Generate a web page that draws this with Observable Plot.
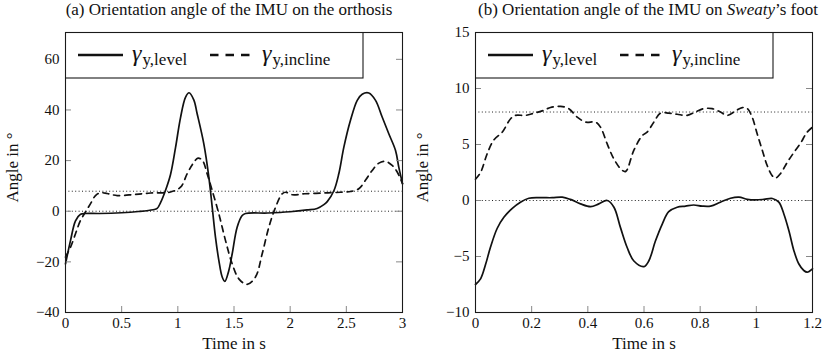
<!DOCTYPE html>
<html><head><meta charset="utf-8">
<script src="https://cdn.jsdelivr.net/npm/d3@7"></script>
<script src="https://cdn.jsdelivr.net/npm/@observablehq/plot@0.6"></script>
<style>
body{margin:0;background:#fff;font-family:"Liberation Serif",serif;color:#111;}
#fig{position:relative;width:823px;height:356px;overflow:hidden;background:#fff;}
.panel{position:absolute;top:0;width:412px;height:356px;}
.panel svg text{font-family:"Liberation Serif",serif;}
.title{position:absolute;top:1px;width:400px;white-space:nowrap;font-size:17px;line-height:17px;text-align:center;color:#111;}
.legend{position:absolute;top:32px;}
</style></head><body><div id="fig"></div>
<script>
// ---------- data: panel (a) orthosis ----------
const tA_level = [0, 0.045, 0.089, 0.134, 0.178, 0.3, 0.5, 0.65, 0.78, 0.816, 0.846, 0.89, 0.935, 0.979, 1.024, 1.068, 1.1, 1.142, 1.172, 1.231, 1.276, 1.306, 1.335, 1.365, 1.395, 1.418, 1.454, 1.484, 1.528, 1.573, 1.602, 1.8, 2.0, 2.15, 2.24, 2.3, 2.33, 2.39, 2.433, 2.478, 2.537, 2.597, 2.641, 2.7, 2.76, 2.819, 2.878, 2.938, 2.967, 3.0];
const vA_level = [-20.8, -11.5, -3.8, -1.2, -0.9, -0.9, -0.6, -0.1, 0.6, 1.1, 3.4, 8.2, 14.5, 25, 37, 45, 46.8, 44, 38.5, 26.7, 13.5, 1.6, -10.2, -19.4, -26, -27.7, -23.4, -16.8, -6.3, -1.7, -0.9, -0.7, -0.2, 0.5, 1.1, 2.6, 3.8, 8.2, 14.8, 25.3, 35.9, 43.8, 46.2, 46.7, 43.8, 37.2, 30.6, 24, 17.4, 10.9];
const tA_incline = [0, 0.045, 0.089, 0.134, 0.178, 0.223, 0.267, 0.312, 0.371, 0.46, 0.608, 0.757, 0.935, 1.024, 1.083, 1.13, 1.18, 1.22, 1.261, 1.306, 1.365, 1.424, 1.484, 1.543, 1.617, 1.691, 1.751, 1.81, 1.87, 1.929, 1.96, 2.02, 2.13, 2.3, 2.45, 2.537, 2.611, 2.67, 2.73, 2.79, 2.85, 2.908, 2.953, 3.0];
const vA_incline = [-18.1, -14.2, -8.9, -3.6, -0.3, 3, 6.2, 7.3, 7.0, 6.2, 6.6, 7.2, 7.6, 9.5, 14.8, 18.5, 21, 20, 14.8, 8.2, -1.0, -11.5, -20.8, -26.7, -28.9, -26, -16.8, -6.3, 1.6, 6.9, 7.5, 6.5, 6.9, 7.2, 7.5, 7.8, 8.9, 12.2, 16.1, 19, 19.7, 18.1, 15.5, 10.9];
const refA = [0, 7.9];
const xTicksA = [0, 0.5, 1, 1.5, 2, 2.5, 3];
const yTicksA = [-40, -20, 0, 20, 40, 60];

// ---------- data: panel (b) Sweaty's foot ----------
const tB_level = [0, 0.018, 0.036, 0.053, 0.077, 0.101, 0.131, 0.16, 0.19, 0.232, 0.273, 0.309, 0.338, 0.374, 0.41, 0.439, 0.469, 0.493, 0.516, 0.54, 0.564, 0.6, 0.617, 0.641, 0.665, 0.688, 0.718, 0.748, 0.777, 0.807, 0.837, 0.872, 0.908, 0.938, 0.968, 0.997, 1.027, 1.057, 1.08, 1.098, 1.116, 1.134, 1.151, 1.169, 1.181, 1.2];
const vB_level = [-7.5, -7.0, -5.7, -4.2, -2.5, -1.5, -0.7, -0.15, 0.2, 0.25, 0.25, 0.3, 0.1, -0.3, -0.55, -0.3, 0, -0.6, -2.4, -4.2, -5.4, -5.9, -5.4, -3.6, -2.1, -1.0, -0.6, -0.5, -0.4, -0.5, -0.5, -0.15, 0.2, 0.3, 0.1, 0.05, 0.1, 0.18, -0.15, -1.2, -2.7, -4.5, -5.65, -6.25, -6.4, -6.1];
const tB_incline = [0, 0.018, 0.042, 0.065, 0.095, 0.125, 0.142, 0.178, 0.208, 0.237, 0.267, 0.303, 0.332, 0.362, 0.392, 0.427, 0.445, 0.469, 0.493, 0.522, 0.535, 0.564, 0.594, 0.611, 0.635, 0.659, 0.688, 0.718, 0.754, 0.783, 0.813, 0.843, 0.872, 0.896, 0.926, 0.95, 0.968, 0.985, 1.003, 1.021, 1.039, 1.057, 1.068, 1.086, 1.11, 1.134, 1.157, 1.181, 1.2];
const vB_incline = [1.9, 2.5, 4.2, 5.4, 6.1, 7.3, 7.6, 7.6, 7.8, 8.0, 8.3, 8.4, 8.2, 7.45, 7.0, 7.0, 6.55, 5.05, 3.7, 2.7, 2.6, 4.5, 5.8, 6.1, 7.0, 7.8, 7.8, 7.7, 7.6, 7.9, 8.2, 8.2, 7.9, 7.6, 8.0, 8.3, 8.2, 7.45, 5.95, 4.5, 3.1, 2.2, 2.0, 2.4, 3.4, 4.3, 5.1, 6.1, 6.55];
const refB = [0, 7.9];
const xTicksB = [0, 0.2, 0.4, 0.6, 0.8, 1, 1.2];
const yTicksB = [-10, -5, 0, 5, 10, 15];

const titleA = "(a) Orientation angle of the IMU on the orthosis";
const titleB = ["(b) Orientation angle of the IMU on ", "Sweaty", "’s foot"];
const xLabel = "Time in s";
const yLabel = "Angle in °";
const seriesNames = ["level", "incline"];

const FONT = "Liberation Serif";
const fmt = d => (d < 0 ? "\u2212" : "") + Math.abs(d);

function makePanel(o) {
  const W = 412, H = 356, mt = 32, mb = 44;
  const iw = W - o.ml - o.mr, ih = H - mt - mb;
  const level = o.tl.map((t, i) => ({t, v: o.vl[i]}));
  const incline = o.ti.map((t, i) => ({t, v: o.vi[i]}));
  return Plot.plot({
    width: W, height: H, marginLeft: o.ml, marginRight: o.mr, marginTop: mt, marginBottom: mb,
    style: {fontFamily: FONT, fontSize: "15px", background: "white", color: "#111"},
    x: {domain: o.xd}, y: {domain: o.yd},
    marks: [
      Plot.ruleY(o.ref, {stroke: "#222", strokeWidth: 1, strokeDasharray: "1,2.4"}),
      Plot.line(level, {x: "t", y: "v", curve: "catmull-rom", stroke: "#111", strokeWidth: 1.7}),
      Plot.line(incline, {x: "t", y: "v", curve: "catmull-rom", stroke: "#111", strokeWidth: 1.7, strokeDasharray: "6,5"}),
      Plot.tickY(o.yt, {y: d => d, insetRight: iw - 6, stroke: "#888", strokeWidth: 1}),
      Plot.tickY(o.yt, {y: d => d, insetLeft: iw - 6, stroke: "#888", strokeWidth: 1}),
      Plot.tickX(o.xt, {x: d => d, insetTop: ih - 6, stroke: "#888", strokeWidth: 1}),
      Plot.axisX({ticks: o.xt, tickSize: 0, tickPadding: 5, tickFormat: fmt, label: null, fontSize: 15, fontFamily: FONT, fill: "#111"}),
      Plot.axisY({ticks: o.yt, tickSize: 0, tickPadding: 6, tickFormat: fmt, label: null, fontSize: 15, fontFamily: FONT, fill: "#111"}),
      Plot.frame({stroke: "#1a1a1a", strokeWidth: 1.1}),
      Plot.text([xLabel], {frameAnchor: "bottom", lineAnchor: "middle", textAnchor: "middle", dy: 31, fontSize: 17, fontFamily: FONT, fill: "#111"}),
      Plot.text([yLabel], {frameAnchor: "left", lineAnchor: "middle", textAnchor: "middle", dx: -53, dy: -5, rotate: -90, fontSize: 17, fontFamily: FONT, fill: "#111"})
    ]
  });
}

function makeLegend() {
  const ns = "http://www.w3.org/2000/svg";
  const svg = document.createElementNS(ns, "svg");
  svg.setAttribute("width", 299); svg.setAttribute("height", 47);
  svg.setAttribute("font-family", FONT);
  const rect = document.createElementNS(ns, "rect");
  Object.entries({x: 0.5, y: 0.5, width: 297.5, height: 45.5, fill: "white", stroke: "#1a1a1a", "stroke-width": 1.1})
    .forEach(([k, v]) => rect.setAttribute(k, v));
  svg.appendChild(rect);
  const items = [{x1: 13, x2: 58, dash: null, tx: 67, name: seriesNames[0]},
                 {x1: 145, x2: 186, dash: "8.5,7", tx: 197, name: seriesNames[1]}];
  for (const it of items) {
    const l = document.createElementNS(ns, "line");
    Object.entries({x1: it.x1, x2: it.x2, y1: 23, y2: 23, stroke: "#111", "stroke-width": 2.6})
      .forEach(([k, v]) => l.setAttribute(k, v));
    if (it.dash) l.setAttribute("stroke-dasharray", it.dash);
    svg.appendChild(l);
    const t = document.createElementNS(ns, "text");
    t.setAttribute("x", it.tx); t.setAttribute("y", 29);
    t.setAttribute("fill", "#111");
    const g = document.createElementNS(ns, "tspan");
    g.setAttribute("font-style", "italic"); g.setAttribute("font-size", 24);
    g.textContent = "γ";
    const s = document.createElementNS(ns, "tspan");
    s.setAttribute("font-size", 17); s.setAttribute("dy", 3.5); s.setAttribute("dx", 1);
    s.textContent = "y," + it.name;
    t.appendChild(g); t.appendChild(s);
    svg.appendChild(t);
  }
  return svg;
}

const fig = document.getElementById("fig");
function addPanel(left, plot, ml, titleNode, titleCenter) {
  const p = document.createElement("div");
  p.className = "panel"; p.style.left = left + "px";
  p.appendChild(plot);
  const lg = document.createElement("div");
  lg.className = "legend"; lg.style.left = ml + "px";
  lg.appendChild(makeLegend());
  p.appendChild(lg);
  fig.appendChild(p);
  const t = document.createElement("div");
  t.className = "title"; t.style.left = (titleCenter - 200) + "px";
  t.appendChild(titleNode);
  fig.appendChild(t);
}

const plotA = makePanel({tl: tA_level, vl: vA_level, ti: tA_incline, vi: vA_incline, xd: [0, 3], yd: [-40, 70.6], xt: xTicksA, yt: yTicksA, ref: refA, ml: 65, mr: 10});
const plotB = makePanel({tl: tB_level, vl: vB_level, ti: tB_incline, vi: vB_incline, xd: [0, 1.2], yd: [-10, 15], xt: xTicksB, yt: yTicksB, ref: refB, ml: 64, mr: 11});

const tA = document.createElement("span"); tA.textContent = titleA;
const tB = document.createElement("span");
tB.appendChild(document.createTextNode(titleB[0]));
const it = document.createElement("i"); it.textContent = titleB[1]; tB.appendChild(it);
tB.appendChild(document.createTextNode(titleB[2]));

addPanel(0, plotA, 65, tA, 229);
addPanel(411, plotB, 64, tB, 648);
</script></body></html>
